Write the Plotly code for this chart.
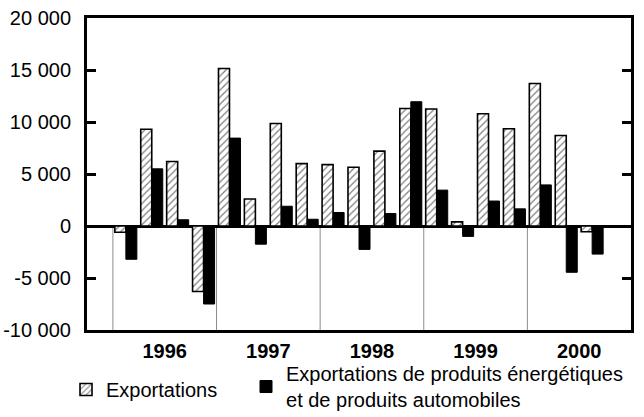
import plotly.graph_objects as go

years = ["1996", "1997", "1998", "1999", "2000"]
quarters_per_year = 4

exportations = [
    -600, 9300, 6200, -6300,
    15150, 2600, 9850, 6000,
    5900, 5650, 7200, 11300,
    11250, 400, 10800, 9350,
    13700, 8700, -550, None,
]
energie_auto = [
    -3200, 5500, 600, -7500,
    8450, -1750, 1900, 650,
    1300, -2250, 1200, 11950,
    3450, -1000, 2400, 1650,
    3950, -4450, -2700, None,
]
y_tickvals = [-10000, -5000, 0, 5000, 10000, 15000, 20000]
y_ticktext = ["-10 000", "-5 000", "0", "5 000", "10 000", "15 000", "20 000"]

name_a = "Exportations"
name_b = "Exportations de produits énergétiques<br>et de produits automobiles"

x = list(range(len(exportations)))
FONT = "Liberation Sans, Arial, sans-serif"

fig = go.Figure()
fig.add_trace(go.Bar(
    x=x, y=exportations, name=name_a, legend="legend",
    marker=dict(color="white", line=dict(color="black", width=1.6),
                pattern=dict(shape="/", fgcolor="black", bgcolor="white",
                             size=5, solidity=0.25)),
))
fig.add_trace(go.Bar(
    x=x, y=energie_auto, name=name_b, legend="legend2",
    marker=dict(color="black", line=dict(color="black", width=1)),
))

# year separators (below zero line)
shapes = []
for k in range(len(years)):
    bx = k * quarters_per_year - 0.5
    shapes.append(dict(type="line", xref="x", yref="y", x0=bx, x1=bx,
                       y0=y_tickvals[0], y1=0,
                       line=dict(color="#8c8c8c", width=1), layer="below"))

year_centers = [k * quarters_per_year + 1.5 for k in range(len(years))]

legend_common = dict(font=dict(size=20), valign="middle",
                     bgcolor="rgba(0,0,0,0)", xanchor="left", yanchor="top")

fig.update_layout(
    width=644, height=417,
    margin=dict(l=87, r=13, t=18, b=87, autoexpand=False),
    paper_bgcolor="white", plot_bgcolor="white",
    barmode="group", bargap=0.15, bargroupgap=0,
    font=dict(family=FONT, size=20, color="black"),
    shapes=shapes,
    showlegend=True,
    legend=dict(x=-0.0386, y=-0.128, **legend_common),
    legend2=dict(x=0.2923, y=-0.077, **legend_common),
    xaxis=dict(range=[-1.5, len(x) - 0.5], showgrid=False, zeroline=False,
               showline=True, linecolor="black", linewidth=3, mirror=True,
               ticks="", tickvals=year_centers, ticktext=years,
               ticklabelstandoff=1, automargin=False,
               tickfont=dict(family=FONT, size=20, weight="bold")),
    yaxis=dict(range=[y_tickvals[0], y_tickvals[-1]], showgrid=False,
               zeroline=True, zerolinecolor="black", zerolinewidth=3,
               showline=True, linecolor="black", linewidth=3, mirror="ticks",
               ticks="inside", ticklen=9, tickwidth=3, tickcolor="black",
               tickvals=y_tickvals, ticktext=y_ticktext,
               ticklabelstandoff=9, automargin=False,
               tickfont=dict(family=FONT, size=20)),
)

fig.write_html(
    "out.html",
    config={"displayModeBar": False},
    post_script="document.body.style.margin='0';document.body.style.padding='0';"
                "document.body.style.overflow='hidden';",
)
